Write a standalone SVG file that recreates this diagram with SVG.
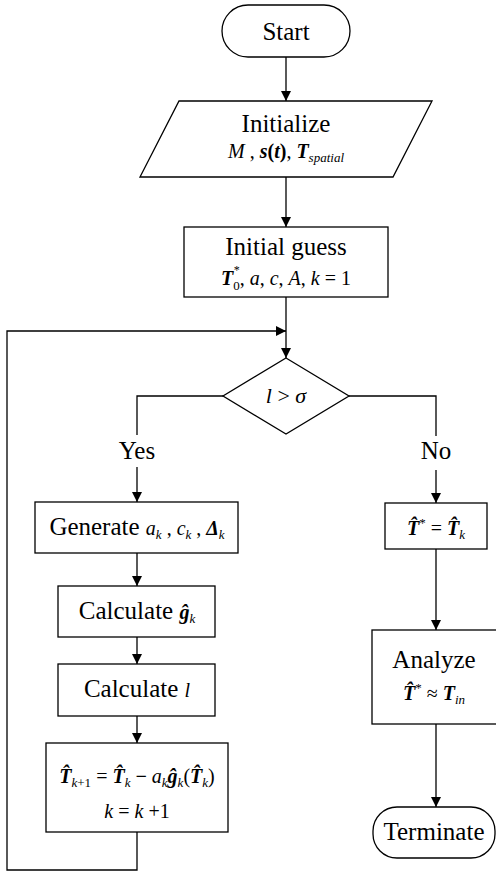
<svg xmlns="http://www.w3.org/2000/svg" width="496" height="872" viewBox="0 0 496 872">
<style>
.s{fill:#fff;stroke:#000;stroke-width:1.3}
.c{fill:none;stroke:#000;stroke-width:1.3}
text{font-family:"Liberation Serif","Times New Roman",serif;fill:#000;text-anchor:middle}
.t{font-size:25px}
.m{font-size:20px}
.d{font-size:22px}
.i{font-style:italic}
.b{font-weight:bold;font-style:italic}
.bu{font-weight:bold}
.sb{font-size:13px;font-style:italic}
.su{font-size:13px}
.st{font-size:12px}
</style>
<defs>
<marker id="ah" markerUnits="userSpaceOnUse" markerWidth="10" markerHeight="10" refX="10" refY="5" orient="auto">
<path d="M0,0 L10,5 L0,10 z" fill="#000"/>
</marker>
</defs>
<g id="connectors">
<path class="c" d="M286,57 V101" marker-end="url(#ah)"/>
<path class="c" d="M286,177 V227" marker-end="url(#ah)"/>
<path class="c" d="M286,297 V358" marker-end="url(#ah)"/>
<path class="c" d="M137,832 V870 H7 V331 H286" marker-end="url(#ah)"/>
<path class="c" d="M223,396 H137 V435"/>
<path class="c" d="M137,467 V502" marker-end="url(#ah)"/>
<path class="c" d="M349,396 H436 V436"/>
<path class="c" d="M436,470 V503" marker-end="url(#ah)"/>
<path class="c" d="M137,553 V586" marker-end="url(#ah)"/>
<path class="c" d="M137,637 V664" marker-end="url(#ah)"/>
<path class="c" d="M137,716 V743" marker-end="url(#ah)"/>
<path class="c" d="M436,549 V630" marker-end="url(#ah)"/>
<path class="c" d="M436,724 V807" marker-end="url(#ah)"/>
</g>
<g id="start">
<rect class="s" x="222" y="5" width="128" height="52" rx="26"/>
<text class="t" x="286" y="40">Start</text>
</g>
<g id="initialize">
<polygon class="s" points="179,101 432,101 393,177 140,177"/>
<text class="t" x="286" y="132">Initialize</text>
<text class="m" x="286" y="158"><tspan class="i">M</tspan> , <tspan class="b">s</tspan><tspan class="bu">(</tspan><tspan class="b">t</tspan><tspan class="bu">)</tspan>, <tspan class="b">T</tspan><tspan class="sb" dy="4">spatial</tspan></text>
</g>
<g id="guess">
<rect class="s" x="184" y="227" width="204" height="70"/>
<text class="t" x="286" y="255">Initial guess</text>
<text class="m" x="286" y="285"><tspan class="b">T</tspan><tspan class="su" dy="5">0</tspan><tspan class="st" dx="-6" dy="-16">*</tspan><tspan dy="11">, </tspan><tspan class="i">a</tspan>,  <tspan class="i">c</tspan>, <tspan class="i">A</tspan>, <tspan class="i">k</tspan> = 1</text>
</g>
<g id="decision">
<polygon class="s" points="286,358 349,396 286,434 223,396"/>
<text class="d" x="286" y="403"><tspan class="i">l</tspan> &gt; <tspan class="i">σ</tspan></text>
</g>
<g id="yes">
<text class="t" x="137" y="459">Yes</text>
</g>
<g id="no">
<text class="t" x="436" y="459">No</text>
</g>
<g id="generate">
<rect class="s" x="35" y="502" width="203" height="51"/>
<text class="t" x="137" y="535">Generate <tspan class="m i">a</tspan><tspan class="sb" dy="4">k</tspan><tspan class="m" dy="-4"> , </tspan><tspan class="m i">c</tspan><tspan class="sb" dy="4">k</tspan><tspan class="m" dy="-4"> , </tspan><tspan class="m b">Δ</tspan><tspan class="sb" dy="4">k</tspan></text>
</g>
<g id="calcg">
<rect class="s" x="58" y="586" width="157" height="51"/>
<text class="t" x="137" y="619">Calculate  <tspan class="m b">ĝ</tspan><tspan class="sb" dy="4">k</tspan></text>
</g>
<g id="calcl">
<rect class="s" x="58" y="664" width="157" height="52"/>
<text class="t" x="137" y="697">Calculate  <tspan class="m i">l</tspan></text>
</g>
<g id="update">
<rect class="s" x="46" y="743" width="182" height="89"/>
<text class="m" x="137" y="783"><tspan class="b">T̂</tspan><tspan class="sb" dy="4">k</tspan><tspan class="su" dy="0">+1</tspan><tspan dy="-4"> = </tspan><tspan class="b">T̂</tspan><tspan class="sb" dy="4">k</tspan><tspan class="bu" dy="-4"> − </tspan><tspan class="i">a</tspan><tspan class="sb" dy="4">k</tspan><tspan class="b" dy="-4">ĝ</tspan><tspan class="sb" dy="4">k</tspan><tspan dy="-4">(</tspan><tspan class="b">T̂</tspan><tspan class="sb" dy="4">k</tspan><tspan dy="-4">)</tspan></text>
<text class="m" x="137" y="818"><tspan class="i">k</tspan> = <tspan class="i">k</tspan> +1</text>
</g>
<g id="result">
<rect class="s" x="385" y="503" width="102" height="46"/>
<text class="m" x="436" y="535"><tspan class="b">T̂</tspan><tspan class="su" dy="-8">*</tspan><tspan dy="8"> = </tspan><tspan class="b">T̂</tspan><tspan class="sb" dy="4">k</tspan></text>
</g>
<g id="analyze">
<rect class="s" x="372" y="630" width="130" height="94"/>
<text class="t" x="434" y="668">Analyze</text>
<text class="m" x="434" y="700"><tspan class="b">T̂</tspan><tspan class="su" dy="-8">*</tspan><tspan dy="8"> ≈ </tspan><tspan class="b">T</tspan><tspan class="sb" dy="4">in</tspan></text>
</g>
<g id="terminate">
<rect class="s" x="373" y="807" width="122" height="51" rx="24"/>
<text class="t" x="434" y="840">Terminate</text>
</g>
</svg>
